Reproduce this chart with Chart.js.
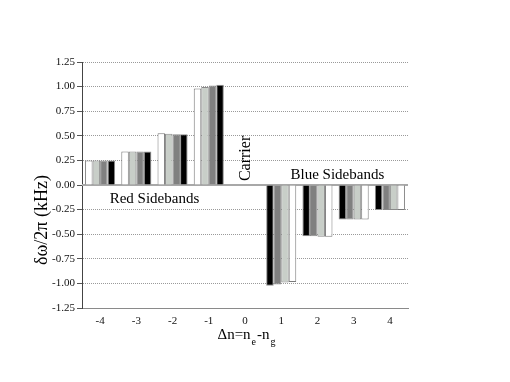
<!DOCTYPE html>
<html>
<head>
<meta charset="utf-8">
<script src="https://cdn.jsdelivr.net/npm/chart.js@4"></script>
<style>
html,body{margin:0;padding:0;background:#fff;}
#wrap{width:510px;height:382px;position:relative;}
</style>
</head>
<body>
<div id="wrap"><canvas id="c" width="510" height="382"></canvas></div>
<script>
// ---- data ----
const categories = ['-4', '-3', '-2', '-1', '0', '1', '2', '3', '4'];
const bar1 = [0.25, 0.34, 0.525, 0.98, null, -1.025, -0.52, -0.35, -0.255];
const bar2 = [0.25, 0.34, 0.52, 0.995, null, -1.01, -0.52, -0.35, -0.255];
const bar3 = [0.25, 0.34, 0.515, 1.01, null, -0.99, -0.525, -0.35, -0.255];
const bar4 = [0.25, 0.34, 0.515, 1.02, null, -0.985, -0.525, -0.35, -0.255];
const yMin = -1.25, yMax = 1.25, yStep = 0.25;
const yTitle = 'δω/2π (kHz)';
const redLabel = 'Red Sidebands';
const blueLabel = 'Blue Sidebands';
const carrierLabel = 'Carrier';

// ---- styles ----
const FONT = '"Liberation Serif", "Times New Roman", serif';
const shades = ['#ffffff', '#c8cec8', '#808080', '#000000'];
function colorsFor(i) {
  return categories.map(c => Number(c) < 0 ? shades[i] : shades[3 - i]);
}
function bordersFor(i) {
  return categories.map(c => {
    const s = Number(c) < 0 ? shades[i] : shades[3 - i];
    return s === '#ffffff' ? '#7a7a7a' : '#8a8a8a';
  });
}
const series = [bar1, bar2, bar3, bar4];

const textPlugin = {
  id: 'texts',
  beforeDatasetsDraw(chart) {
    const {ctx, scales: {x, y}, chartArea} = chart;
    ctx.save();
    ctx.strokeStyle = '#a8a8a8';
    ctx.lineWidth = 2;
    const y0 = Math.round(y.getPixelForValue(0));
    ctx.beginPath();
    ctx.moveTo(chartArea.left, y0);
    ctx.lineTo(chartArea.right, y0);
    ctx.stroke();
    ctx.restore();
  },
  afterDraw(chart) {
    const {ctx, scales: {x, y}, chartArea} = chart;
    ctx.save();
    ctx.fillStyle = '#000';
    ctx.textAlign = 'center';
    ctx.textBaseline = 'middle';
    ctx.font = '15px ' + FONT;
    ctx.fillText(redLabel, x.getPixelForValue(1.5), y.getPixelForValue(-0.14));
    ctx.fillText(blueLabel, x.getPixelForValue(6.55), y.getPixelForValue(0.10));
    // Carrier (rotated)
    ctx.save();
    ctx.font = '16px ' + FONT;
    ctx.translate(x.getPixelForValue(4) + 1, y.getPixelForValue(0.27));
    ctx.rotate(-Math.PI / 2);
    ctx.fillText(carrierLabel, 0, 0);
    ctx.restore();
    // Y title (starts at the bottom, reads upward)
    ctx.save();
    ctx.font = '18px ' + FONT;
    ctx.textAlign = 'left';
    ctx.translate(42, 265);
    ctx.rotate(-Math.PI / 2);
    ctx.fillText(yTitle, 0, 0);
    ctx.restore();
    // X title with subscripts: Δn=n_e-n_g
    const parts = [['Δn=n', 0], ['e', 1], ['-n', 0], ['g', 1]];
    const big = '15px ' + FONT, small = '10px ' + FONT;
    let total = 0;
    parts.forEach(p => { ctx.font = p[1] ? small : big; total += ctx.measureText(p[0]).width + (p[1] ? 2 : 0); });
    let cx = (chartArea.left + chartArea.right) / 2 + 2 - total / 2;
    const by = 339;
    ctx.textAlign = 'left';
    ctx.textBaseline = 'alphabetic';
    parts.forEach(p => {
      ctx.font = p[1] ? small : big;
      ctx.fillText(p[0], cx + (p[1] ? 1 : 0), by + (p[1] ? 6 : 0));
      cx += ctx.measureText(p[0]).width + (p[1] ? 2 : 0);
    });
    ctx.restore();
  }
};

new Chart(document.getElementById('c'), {
  type: 'bar',
  data: {
    labels: categories,
    datasets: series.map((d, i) => ({
      data: d,
      backgroundColor: colorsFor(i),
      borderColor: bordersFor(i),
      borderWidth: 1,
      borderSkipped: 'start',
      categoryPercentage: 0.83,
      barPercentage: 1.0
    }))
  },
  options: {
    responsive: false,
    devicePixelRatio: 1,
    animation: false,
    layout: { padding: { top: 62, right: 102, left: 0, bottom: 0 } },
    plugins: { legend: { display: false }, tooltip: { enabled: false }, title: { display: false } },
    scales: {
      x: {
        afterFit(s) { s.height = 74; },
        grid: { display: false, drawTicks: false },
        border: { display: true, color: '#8a8a8a', width: 1 },
        ticks: { color: '#111', padding: 7, font: { family: FONT, size: 11 } }
      },
      y: {
        min: yMin, max: yMax,
        afterFit(s) { s.width = 82; },
        afterBuildTicks(s) {
          const t = [];
          for (let v = yMin; v <= yMax + 1e-9; v += yStep) t.push({ value: Math.round(v * 100) / 100 });
          s.ticks = t;
        },
        grid: {
          color(ctx) {
            const v = ctx.tick ? ctx.tick.value : null;
            if (v === 0 || v === yMin) return 'rgba(0,0,0,0)';
            return '#9a9a9a';
          },
          tickColor: '#555',
          tickLength: 5,
          tickBorderDash: [],
          lineWidth: 1
        },
        border: { display: true, color: '#444', width: 1, dash: [1, 1] },
        ticks: {
          color: '#111', padding: 2,
          font: { family: FONT, size: 11 },
          callback(v) { return Number(v).toFixed(2); }
        }
      }
    }
  },
  plugins: [textPlugin]
});
</script>
</body>
</html>
